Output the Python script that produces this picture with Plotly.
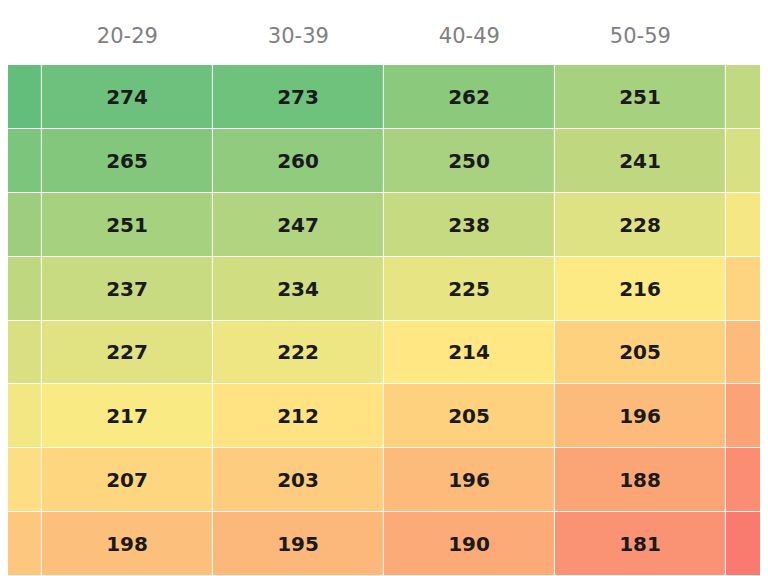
import plotly.graph_objs as go

# columns: partial left column, four age bands, partial right column
age_groups = ["<20", "20-29", "30-39", "40-49", "50-59", "60+"]
rows = ["r1", "r2", "r3", "r4", "r5", "r6", "r7", "r8"]

values = [
    [278, 274, 273, 262, 251, 240],
    [268, 265, 260, 250, 241, 231],
    [255, 251, 247, 238, 228, 219],
    [241, 237, 234, 225, 216, 206],
    [230, 227, 222, 214, 205, 196],
    [220, 217, 212, 205, 196, 187],
    [210, 207, 203, 196, 188, 179],
    [201, 198, 195, 190, 181, 172],
]

labels = [[str(v) if 0 < j < 5 else "" for j, v in enumerate(r)] for r in values]

zmin, zmid, zmax = 165, 215, 278
mid = (zmid - zmin) / (zmax - zmin)
colorscale = [[0.0, "#F8696B"], [mid, "#FFEB84"], [1.0, "#63BE7B"]]

fig = go.Figure(go.Heatmap(
    z=values,
    x=list(range(len(age_groups))),
    y=list(range(len(rows))),
    text=labels,
    texttemplate="%{text}",
    textfont=dict(family="DejaVu Sans", size=20, color="#1a1a1a"),
    colorscale=colorscale,
    zmin=zmin, zmax=zmax,
    showscale=False,
    xgap=1, ygap=1,
    hoverinfo="skip",
))

fig.update_layout(
    width=768, height=576,
    margin=dict(l=0, r=0, t=57, b=0),
    paper_bgcolor="white", plot_bgcolor="white",
    xaxis=dict(
        range=[0.302, 4.793], side="top",
        tickmode="array", tickvals=[1, 2, 3, 4], ticktext=age_groups[1:5],
        tickfont=dict(family="DejaVu Sans", size=21, color="#808080"),
        ticklabelstandoff=17,
        showgrid=False, zeroline=False, ticks="", ticklen=0,
    ),
    yaxis=dict(range=[7.625, -0.5], showticklabels=False, showgrid=False, zeroline=False),
)
fig.update_traces(textfont_weight="bold")

fig.write_html("out.html")
